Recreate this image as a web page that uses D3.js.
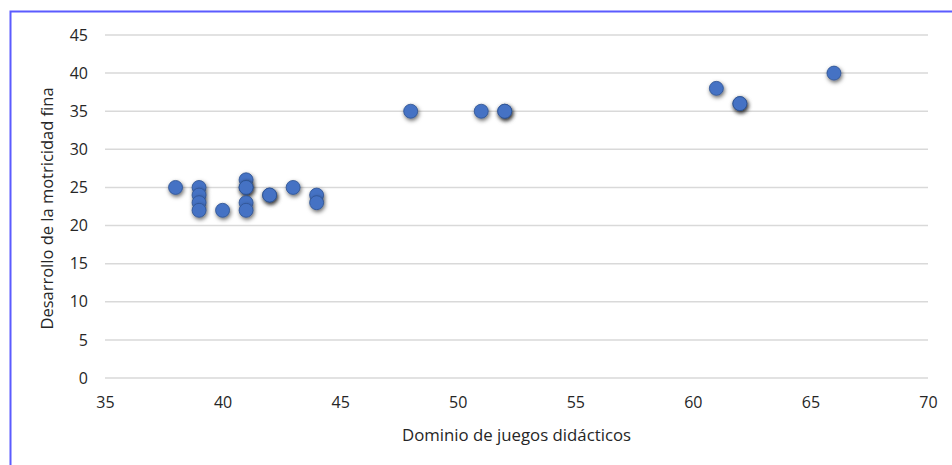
<!DOCTYPE html>
<html>
<head>
<meta charset="utf-8">
<script src="https://cdn.jsdelivr.net/npm/d3@7"></script>
<style>
  body { margin: 0; background: #fff; }
  svg { font-family: "Open Sans", Lato, sans-serif; }
</style>
</head>
<body>
<svg id="chart"></svg>
<script>
// dominio de juegos didacticos (x) vs desarrollo de la motricidad fina (y)
var juegos    = [38, 39, 39, 39, 39, 40, 41, 41, 41, 41, 41, 42, 42, 43, 44, 44, 48, 51, 52, 52, 61, 62, 62, 66];
var motricidad = [25, 25, 24, 23, 22, 22, 26, 25, 25, 23, 22, 24, 24, 25, 24, 23, 35, 35, 35, 35, 38, 36, 36, 40];
var xTicks = [35, 40, 45, 50, 55, 60, 65, 70];
var yTicks = [0, 5, 10, 15, 20, 25, 30, 35, 40, 45];

var width = 952, height = 465;
var margin = {top: 35, right: 24, bottom: 87, left: 105};
var font = '"Open Sans", Lato, sans-serif';

var svg = d3.select('#chart')
  .attr('width', width)
  .attr('height', height);

// shadow for markers
var defs = svg.append('defs');
var f = defs.append('filter').attr('id', 'shadow')
  .attr('x', '-50%').attr('y', '-50%').attr('width', '200%').attr('height', '200%');
f.append('feDropShadow')
  .attr('dx', 1).attr('dy', 2).attr('stdDeviation', 2)
  .attr('flood-color', '#000').attr('flood-opacity', 0.6);

// frame (only top and left edges show)
svg.append('path')
  .attr('d', 'M10.5,465 V11.5 H952')
  .attr('fill', 'none')
  .attr('stroke', '#5b5bff')
  .attr('stroke-width', 2);

var xscale = d3.scaleLinear().domain([35, 70]).range([margin.left, width - margin.right]);
var yscale = d3.scaleLinear().domain([0, 45]).range([height - margin.bottom, margin.top]);

// gridlines
svg.append('g')
  .selectAll('line')
  .data(yTicks)
  .enter()
  .append('line')
  .attr('x1', xscale(35))
  .attr('x2', xscale(70))
  .attr('y1', d => yscale(d))
  .attr('y2', d => yscale(d))
  .attr('stroke', '#d9d9d9')
  .attr('stroke-width', 1.5);

// y axis labels
var yaxis = d3.axisLeft(yscale).tickValues(yTicks).tickSize(0).tickPadding(17);
var yg = svg.append('g')
  .attr('transform', `translate(${margin.left},0)`)
  .call(yaxis);
yg.select('.domain').remove();
yg.selectAll('text').attr('font-size', 16).attr('fill', '#262626')
  .attr('font-family', font);

// x axis labels
var xaxis = d3.axisBottom(xscale).tickValues(xTicks).tickSize(0).tickPadding(19);
var xg = svg.append('g')
  .attr('transform', `translate(0,${yscale(0)})`)
  .call(xaxis);
xg.select('.domain').remove();
xg.selectAll('text').attr('font-size', 16).attr('fill', '#262626')
  .attr('font-family', font);

// axis titles
svg.append('text')
  .attr('x', (xscale(35) + xscale(70)) / 2)
  .attr('y', 441)
  .attr('text-anchor', 'middle')
  .attr('font-size', 16.8)
  .attr('fill', '#262626')
  .text('Dominio de juegos didácticos');

svg.append('text')
  .attr('transform', `translate(53,${(yscale(0) + yscale(45)) / 2 + 2}) rotate(-90)`)
  .attr('text-anchor', 'middle')
  .attr('font-size', 16.5)
  .attr('fill', '#262626')
  .text('Desarrollo de la motricidad fina');

// points
svg.append('g')
  .selectAll('circle')
  .data(juegos)
  .enter()
  .append('circle')
  .attr('cx', d => xscale(d))
  .attr('cy', (d, i) => yscale(motricidad[i]))
  .attr('r', 7)
  .attr('fill', '#4472c4')
  .attr('stroke', '#2f528f')
  .attr('stroke-width', 0.8)
  .attr('filter', 'url(#shadow)');
</script>
</body>
</html>
